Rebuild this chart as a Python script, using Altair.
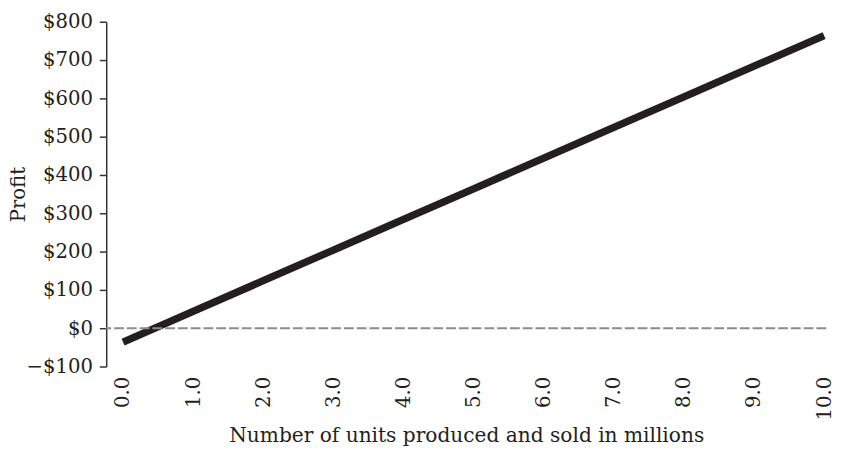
import altair as alt
import pandas as pd

units = [0, 1, 2, 3, 4, 5, 6, 7, 8, 9, 10]
profit = [-36, 44, 124, 204, 284, 364, 444, 524, 604, 684, 764]
y_ticks = [-100, 0, 100, 200, 300, 400, 500, 600, 700, 800]
x_ticks = [0, 1, 2, 3, 4, 5, 6, 7, 8, 9, 10]

df = pd.DataFrame({"units": units, "profit": profit})
zero = pd.DataFrame({"profit": [0]})

FONT = "DejaVu Serif"
INK = "#231f20"

x_enc = alt.X(
    "units:Q",
    title="Number of units produced and sold in millions",
    scale=alt.Scale(domain=[-0.24, 10.03], nice=False, zero=False),
    axis=alt.Axis(
        values=x_ticks, format=".1f", labelAngle=-90, labelAlign="right",
        labelBaseline="middle", domain=False, ticks=False, grid=False,
        labelOverlap=False,
        labelFont=FONT, labelFontSize=20, labelColor=INK, labelPadding=10,
        titleFont=FONT, titleFontSize=20.5, titleFontWeight="normal",
        titleColor=INK, titlePadding=6,
    ),
)
y_enc = alt.Y(
    "profit:Q",
    title="Profit",
    scale=alt.Scale(domain=[-100, 800], nice=False),
    axis=alt.Axis(
        values=y_ticks,
        labelExpr="(datum.value < 0 ? '\u2212$' + abs(datum.value) : '$' + datum.value)",
        grid=False, domainColor="#333333", tickColor="#333333", tickSize=7,
        domainWidth=1.5, tickWidth=1.5, labelOverlap=False,
        labelFont=FONT, labelFontSize=20, labelColor=INK, labelPadding=7,
        titleFont=FONT, titleFontSize=20, titleFontWeight="normal",
        titleColor=INK, titlePadding=-2,
    ),
)

line = alt.Chart(df).mark_line(color=INK, strokeWidth=7.5, strokeCap="butt").encode(
    x=x_enc, y=y_enc
)
rule = alt.Chart(zero).mark_rule(color="#8c8c8c", strokeWidth=2, strokeDash=[10, 3]).encode(
    y=y_enc
)

chart = (
    alt.layer(line, rule)
    .properties(width=733, height=351, padding=0, background="white")
    .configure_view(stroke="transparent", strokeWidth=0)
    .configure_axis(labelOverlap=False)
)

chart.save("out.html", embed_options={"renderer": "svg", "actions": False})
